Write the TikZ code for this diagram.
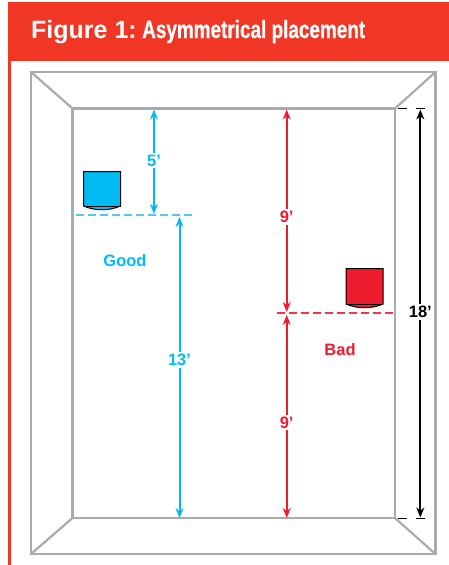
\documentclass[tikz,border=0pt]{standalone}
\usepackage{fontspec}
\setmainfont{Liberation Sans}
\newfontfamily\condfont[FakeStretch=0.757,BoldFeatures={FakeBold=0.6}]{Liberation Sans}
\usetikzlibrary{arrows.meta}

\definecolor{headred}{HTML}{F03726}
\definecolor{wallgray}{HTML}{A9ABAE}
\definecolor{goodblue}{HTML}{00BBF2}
\definecolor{dashblue}{HTML}{55C8EE}
\definecolor{badred}{HTML}{ED1C2E}
\definecolor{dashred}{HTML}{F0364A}

\tikzset{
  wall/.style={draw=wallgray,line width=2.2pt,line join=miter},
  dimline/.style={{Stealth[length=10pt,width=8pt]}-{Stealth[length=10pt,width=8pt]},line width=2pt},
  dashrule/.style={line width=1.5pt,dash pattern=on 7.5pt off 4.5pt},
  dimlabel/.style={fill=white,inner sep=2pt,font=\fontsize{16.5}{16.5}\selectfont\bfseries},
  word/.style={inner sep=0pt,font=\fontsize{16.5}{16.5}\selectfont\bfseries},
  box/.style={draw=black,line width=1pt},
}

\begin{document}
\begin{tikzpicture}[x=1pt,y=-1pt]
      \useasboundingbox (0,0) rectangle (449,565);

      % header
      \fill[headred] (8,2) rectangle (449,60.5);
      \fill[headred] (8,60) rectangle (10.5,565);
      \node[anchor=base west,inner sep=0pt,text=white,font=\fontsize{25}{25}\selectfont\bfseries] (head) at (31,38) {Figure 1:};
      \node[anchor=base west,inner sep=0pt,text=white,font=\fontsize{25}{25}\selectfont\condfont\bfseries] (title) at (142,38) {Asymmetrical placement};

      % room
      \coordinate (o1) at (31,72);
      \coordinate (o2) at (435.5,72);
      \coordinate (o3) at (435.5,554);
      \coordinate (o4) at (31,554);
      \coordinate (i1) at (72.5,108.5);
      \coordinate (i2) at (395,108.5);
      \coordinate (i3) at (395,518);
      \coordinate (i4) at (72.5,518);
      \draw[wall] (o1) -- (o2) -- (o3) -- (o4) -- cycle;
      \draw[wall] (i1) -- (i2) -- (i3) -- (i4) -- cycle;
      \draw[wall] (o1) -- (i1);
      \draw[wall] (o2) -- (i2);
      \draw[wall] (o3) -- (i3);
      \draw[wall] (o4) -- (i4);

      % speakers
      \filldraw[box,fill=goodblue] (83.5,206) .. controls (95,211) and (109,211) .. (120.5,206) -- (120.5,171.5) -- (83.5,171.5) -- cycle;
      \draw[box] (83.5,206) -- (120.5,206);
      \filldraw[box,fill=badred] (346,304) .. controls (357,309) and (372,309) .. (383,304) -- (383,268.5) -- (346,268.5) -- cycle;
      \draw[box] (346,304) -- (383,304);

      % listening lines
      \coordinate (g1) at (76,215);
      \coordinate (g2) at (193,215);
      \coordinate (b1) at (277,313);
      \coordinate (b2) at (395,313);
      \draw[dashrule,draw=dashblue] (g1) -- (g2);
      \draw[dashrule,draw=dashred] (b1) -- (b2);

      % ticks beside the black line
      \coordinate (t1) at (398,108.5);
      \coordinate (t2) at (425,108.5);
      \coordinate (t3) at (398,518);
      \coordinate (t4) at (425,518);
      \draw[black,line width=1pt,dash pattern=on 9pt off 9pt] (t1) -- (t2);
      \draw[black,line width=1pt,dash pattern=on 9pt off 9pt] (t3) -- (t4);

      % ends of the dimension lines
      \coordinate (a1) at (154,109.5);
      \coordinate (a2) at (154,214);
      \coordinate (a3) at (179.5,217);
      \coordinate (a4) at (179.5,518);
      \coordinate (r1) at (286.7,109.5);
      \coordinate (r2) at (286.7,312);
      \coordinate (r3) at (286.7,315);
      \coordinate (r4) at (286.7,518);
      \coordinate (k1) at (420.3,109.5);
      \coordinate (k2) at (420.3,517.5);

      \begin{scope}[every node/.style={dimlabel}]
        \path (a1) edge[dimline,draw=goodblue,fill=goodblue] node[pos=0.49,text=goodblue] {5'} (a2);
        \path (a3) edge[dimline,draw=goodblue,fill=goodblue] node[pos=0.475,text=goodblue] {13'} (a4);
        \path (r1) edge[dimline,draw=badred,fill=badred] node[pos=0.53,text=badred] {9'} (r2);
        \path (r3) edge[dimline,draw=badred,fill=badred] node[pos=0.53,text=badred] {9'} (r4);
        \path (k1) edge[dimline,draw=black,fill=black] node[pos=0.497] {18'} (k2);
      \end{scope}

      \node[word,text=goodblue] (good) at (125,261) {Good};
      \node[word,text=badred] (bad) at (340,350) {Bad};

    \end{tikzpicture}
\end{document}
